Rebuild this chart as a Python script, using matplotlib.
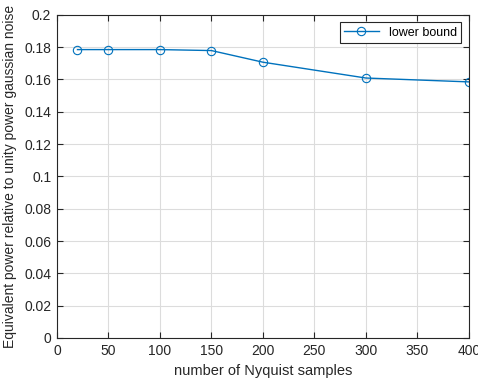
import matplotlib
matplotlib.use("Agg")
import matplotlib.pyplot as plt

# data
samples = [20, 50, 100, 150, 200, 300, 400]
lower_bound = [0.1785, 0.1785, 0.1785, 0.1779, 0.1707, 0.1609, 0.1585]
xticks = [0, 50, 100, 150, 200, 250, 300, 350, 400]
yticks = [0, 0.02, 0.04, 0.06, 0.08, 0.1, 0.12, 0.14, 0.16, 0.18, 0.2]

plt.rcParams['font.family'] = ['Liberation Sans', 'DejaVu Sans']

fig = plt.figure(figsize=(4.78, 3.81), dpi=100)
ax = fig.add_axes([0.119, 0.113, 0.862, 0.848])

ax.plot(samples, lower_bound, color='#0072BD', lw=1, marker='o', ms=6,
        mfc='none', mec='#0072BD', mew=0.8, label='lower bound')

ax.set_xlim(0, 400)
ax.set_ylim(0, 0.2)
ax.set_xticks(xticks)
ax.set_yticks(yticks)
ax.set_yticklabels([f'{v:g}' for v in yticks])
ax.grid(True, color='#dcdcdc', lw=0.8)
ax.set_axisbelow(True)
ax.tick_params(direction='in', top=True, right=True, length=4, pad=4,
               labelsize=10, colors='#262626', labelcolor='#262626')
for s in ax.spines.values():
    s.set_color('#262626')
    s.set_linewidth(0.8)

ax.set_xlabel('number of Nyquist samples', fontsize=10.5, color='#262626',
              labelpad=5)
ax.set_ylabel('Equivalent power relative to unity power gaussian noise',
              fontsize=10, color='#262626', labelpad=5)

leg = ax.legend(loc='upper right', fontsize=9, fancybox=False,
                edgecolor='#262626', framealpha=1, borderaxespad=0.6,
                handlelength=2.8, borderpad=0.35)
leg.get_frame().set_linewidth(0.8)

fig.savefig('out.png', dpi=100)
